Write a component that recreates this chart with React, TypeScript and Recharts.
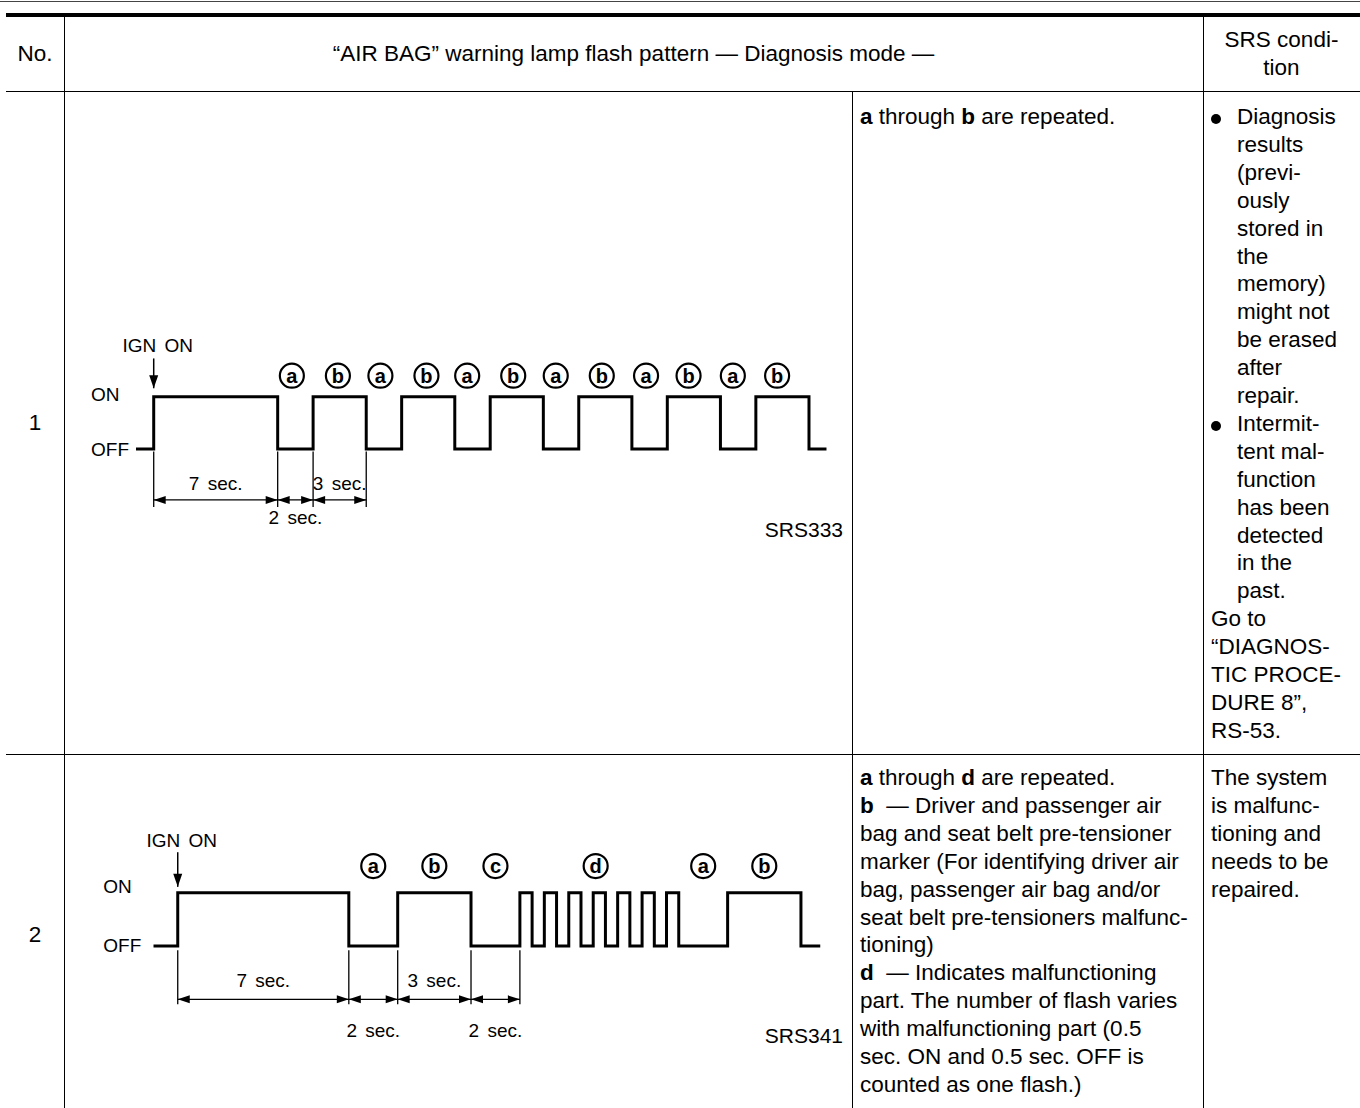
import React from 'react';
import { LineChart, Line, XAxis, YAxis, ReferenceLine, ReferenceDot } from 'recharts';

const FONT = "'Liberation Sans', Arial, Helvetica, sans-serif";

// ---------- Row 1 : a / b repeated ----------
const R1_TIME = [-1, 0, 7, 9, 12, 14, 17, 19, 22, 24, 27, 29, 32, 34, 37, 38];
const R1_LAMP = [0, 1, 0, 1, 0, 1, 0, 1, 0, 1, 0, 1, 0, 1, 0, 0];
const R1_MARK_LABEL = ['a', 'b', 'a', 'b', 'a', 'b', 'a', 'b', 'a', 'b', 'a', 'b'];
const R1_MARK_TIME = [7.8, 10.4, 12.8, 15.4, 17.7, 20.3, 22.7, 25.3, 27.8, 30.2, 32.7, 35.2];
const R1_SPAN_FROM = [0, 7, 9];
const R1_SPAN_TO = [7, 9, 12];
const R1_SPAN_LABEL = ['7 sec.', '2 sec.', '3 sec.'];
const R1_SPAN_SIDE = ['above', 'below', 'above'];
const R1_CODE = 'SRS333';

// ---------- Row 2 : a / b / c / d repeated ----------
const R2_TIME = [-1, 0, 7, 9, 12, 14, 14.5, 15, 15.5, 16, 16.5, 17, 17.5, 18, 18.5, 19, 19.5, 20, 20.5, 22.5, 25.5, 26.3];
const R2_LAMP = [0, 1, 0, 1, 0, 1, 0, 1, 0, 1, 0, 1, 0, 1, 0, 1, 0, 1, 0, 1, 0, 0];
const R2_MARK_LABEL = ['a', 'b', 'c', 'd', 'a', 'b'];
const R2_MARK_TIME = [8, 10.5, 13, 17.1, 21.5, 24];
const R2_SPAN_FROM = [0, 7, 9, 12];
const R2_SPAN_TO = [7, 9, 12, 14];
const R2_SPAN_LABEL = ['7 sec.', '2 sec.', '3 sec.', '2 sec.'];
const R2_SPAN_SIDE = ['above', 'below', 'above', 'below'];
const R2_CODE = 'SRS341';

const LEVEL_LABELS = ['OFF', 'ON'];
const IGN_LABEL = 'IGN ON';

// ---------- table texts ----------
const HEAD_NO = 'No.';
const HEAD_PATTERN = '\u201CAIR BAG\u201D warning lamp flash pattern \u2014 Diagnosis mode \u2014';
const HEAD_COND = ['SRS condi-', 'tion'];
const ROW_NUMBERS = ['1', '2'];
const R1_COND_B1 = ['Diagnosis', 'results', '(previ-', 'ously', 'stored in', 'the', 'memory)', 'might not', 'be erased', 'after', 'repair.'];
const R1_COND_B2 = ['Intermit-', 'tent mal-', 'function', 'has been', 'detected', 'in the', 'past.'];
const R1_COND_TAIL = ['Go to', '\u201CDIAGNOS-', 'TIC PROCE-', 'DURE 8\u201D,', 'RS-53.'];
const R2_COND = ['The system', 'is malfunc-', 'tioning and', 'needs to be', 'repaired.'];

type Seg = { b?: boolean; t: string };
const R1_DESC: Seg[][] = [[{ b: true, t: 'a' }, { t: ' through ' }, { b: true, t: 'b' }, { t: ' are repeated.' }]];
const R2_DESC: Seg[][] = [
  [{ b: true, t: 'a' }, { t: ' through ' }, { b: true, t: 'd' }, { t: ' are repeated.' }],
  [{ b: true, t: 'b' }, { t: '\u00A0 \u2014 Driver and passenger air' }],
  [{ t: 'bag and seat belt pre-tensioner' }],
  [{ t: 'marker (For identifying driver air' }],
  [{ t: 'bag, passenger air bag and/or' }],
  [{ t: 'seat belt pre-tensioners malfunc-' }],
  [{ t: 'tioning)' }],
  [{ b: true, t: 'd' }, { t: '\u00A0 \u2014 Indicates malfunctioning' }],
  [{ t: 'part. The number of flash varies' }],
  [{ t: 'with malfunctioning part (0.5' }],
  [{ t: 'sec. ON and 0.5 sec. OFF is' }],
  [{ t: 'counted as one flash.)' }],
];

const BODY_FS = 22.5;
const LH = 27.9;
const DIAG_FS = 19;

type WaveProps = {
  time: number[];
  lamp: number[];
  markLabel: string[];
  markTime: number[];
  spanFrom: number[];
  spanTo: number[];
  spanLabel: string[];
  spanSide: string[];
  code: string;
  left: number;
  top: number;
  width: number;
  height: number;
  margin: { top: number; right: number; bottom: number; left: number };
  lv: {
    mark: number; ign: number; arrowTop: number; arrowTip: number;
    extTop: number; extBottom: number; dim: number; above: number; below: number; code: number;
  };
  levelDx: number;
  codeDx: number;
  onDy: number;
  offDy: number;
};

const arrowRight = (p: any) => (
  <polygon points={`${p.cx},${p.cy} ${p.cx - 12},${p.cy - 4} ${p.cx - 12},${p.cy + 4}`} fill="#000" />
);
const arrowLeft = (p: any) => (
  <polygon points={`${p.cx},${p.cy} ${p.cx + 12},${p.cy - 4} ${p.cx + 12},${p.cy + 4}`} fill="#000" />
);
const arrowDown = (p: any) => (
  <polygon points={`${p.cx},${p.cy} ${p.cx - 4.5},${p.cy - 13} ${p.cx + 4.5},${p.cy - 13}`} fill="#000" />
);
const textShape = (label: string, anchor: string, dx = 0, dy = 0, fs = DIAG_FS) => (p: any) => (
  <text
    x={p.cx + dx}
    y={p.cy + dy}
    textAnchor={anchor as any}
    fontSize={fs}
    fontFamily={FONT}
    fill="#000"
    style={{ wordSpacing: 3 }}
  >
    {label}
  </text>
);
const circled = (label: string) => (p: any) => (
  <g>
    <circle cx={p.cx} cy={p.cy} r={12} fill="#fff" stroke="#000" strokeWidth={2.2} />
    <text x={p.cx} y={p.cy + 7} textAnchor="middle" fontSize={20} fontWeight="bold" fontFamily={FONT} fill="#000">
      {label}
    </text>
  </g>
);

function WaveChart(props: WaveProps) {
  const { time, lamp, lv } = props;
  const data = time.map((t, i) => ({ t, v: lamp[i] }));
  const xMin = time[0];
  const xMax = time[time.length - 1];
  const extTimes = Array.from(new Set([...props.spanFrom, ...props.spanTo]));
  return (
    <div style={{ position: 'absolute', left: props.left, top: props.top }}>
      <LineChart width={props.width} height={props.height} data={data} margin={props.margin}>
        <XAxis type="number" dataKey="t" domain={[xMin, xMax]} hide allowDataOverflow />
        <YAxis type="number" domain={[-3, 3]} hide allowDataOverflow />
        {extTimes.map((t) => (
          <ReferenceLine
            key={`ext${t}`}
            segment={[{ x: t, y: lv.extTop }, { x: t, y: lv.extBottom }]}
            stroke="#000"
            strokeWidth={1.3}
          />
        ))}
        {props.spanFrom.map((f, i) => (
          <ReferenceLine
            key={`dim${i}`}
            segment={[{ x: f, y: lv.dim }, { x: props.spanTo[i], y: lv.dim }]}
            stroke="#000"
            strokeWidth={1.3}
          />
        ))}
        {props.spanFrom.map((f, i) => (
          <ReferenceDot key={`al${i}`} x={f} y={lv.dim} shape={arrowLeft} />
        ))}
        {props.spanTo.map((t, i) => (
          <ReferenceDot key={`ar${i}`} x={t} y={lv.dim} shape={arrowRight} />
        ))}
        {props.spanLabel.map((l, i) => (
          <ReferenceDot
            key={`sl${i}`}
            x={(props.spanFrom[i] + props.spanTo[i]) / 2}
            y={props.spanSide[i] === 'above' ? lv.above : lv.below}
            shape={textShape(l, 'middle')}
          />
        ))}
        <Line
          dataKey="v"
          type="stepAfter"
          stroke="#000"
          strokeWidth={3}
          dot={false}
          activeDot={false}
          isAnimationActive={false}
          strokeLinejoin="miter"
        />
        {props.markTime.map((t, i) => (
          <ReferenceDot key={`m${i}`} x={t} y={lv.mark} shape={circled(props.markLabel[i])} />
        ))}
        <ReferenceLine segment={[{ x: 0, y: lv.arrowTop }, { x: 0, y: lv.arrowTip }]} stroke="#000" strokeWidth={1.5} />
        <ReferenceDot x={0} y={lv.arrowTip} shape={arrowDown} />
        <ReferenceDot x={0} y={lv.ign} shape={textShape(IGN_LABEL, 'middle', 4)} />
        <ReferenceDot x={xMin} y={1} shape={textShape(LEVEL_LABELS[1], 'start', -props.levelDx, props.onDy)} />
        <ReferenceDot x={xMin} y={0} shape={textShape(LEVEL_LABELS[0], 'start', -props.levelDx, props.offDy)} />
        <ReferenceDot x={xMax} y={lv.code} shape={textShape(props.code, 'end', props.codeDx, 0, 21)} />
      </LineChart>
    </div>
  );
}

const hLine = (top: number, left: number, width: number, h: number, color = '#000') => (
  <div style={{ position: 'absolute', top, left, width, height: h, background: color }} />
);
const vLine = (left: number, top: number, height: number, w = 1.5) => (
  <div style={{ position: 'absolute', top, left, width: w, height, background: '#000' }} />
);

const textBase: React.CSSProperties = {
  position: 'absolute',
  fontFamily: FONT,
  fontSize: BODY_FS,
  lineHeight: `${LH}px`,
  color: '#000',
  whiteSpace: 'pre',
};

function Lines({ rows, left, top }: { rows: Seg[][]; left: number; top: number }) {
  return (
    <div style={{ ...textBase, left, top }}>
      {rows.map((r, i) => (
        <div key={i}>
          {r.map((s, j) => (
            <span key={j} style={{ fontWeight: s.b ? 'bold' : 'normal' }}>
              {s.t}
            </span>
          ))}
        </div>
      ))}
    </div>
  );
}

function Bulleted({ items, left, top }: { items: string[]; left: number; top: number }) {
  return (
    <div style={{ ...textBase, left, top }}>
      {items.map((t, i) => (
        <div key={i} style={{ position: 'relative', paddingLeft: 26 }}>
          {i === 0 && (
            <div
              style={{
                position: 'absolute',
                left: 0,
                top: 11,
                width: 10,
                height: 10,
                borderRadius: 5,
                background: '#000',
              }}
            />
          )}
          {t}
        </div>
      ))}
    </div>
  );
}

export default function App() {
  const W = 1360;
  const H = 1108;
  const colNo = 64;
  const colDesc = 852;
  const colCond = 1203;
  const headBottom = 91;
  const rowSep = 754;
  return (
    <div style={{ position: 'absolute', left: 0, top: 0, width: W, height: H, background: '#fff', overflow: 'hidden' }}>
      {hLine(0.5, 0, W, 1.2, '#444')}
      {hLine(12.8, 6, W - 6, 4)}
      {hLine(headBottom - 0.5, 6, W - 6, 1.6)}
      {hLine(rowSep - 0.5, 6, W - 6, 1.6)}
      {vLine(colNo - 0.5, 16, H - 16)}
      {vLine(colCond - 0.5, 16, H - 16)}
      {vLine(colDesc - 0.5, headBottom, H - headBottom)}

      <div style={{ ...textBase, left: 6, width: colNo - 6, top: 53.5 - LH / 2, textAlign: 'center' }}>{HEAD_NO}</div>
      <div style={{ ...textBase, left: colNo, width: colCond - colNo, top: 53.5 - LH / 2, textAlign: 'center' }}>
        {HEAD_PATTERN}
      </div>
      <div style={{ ...textBase, left: colCond, width: W - colCond, top: 53.5 - LH, textAlign: 'center' }}>
        {HEAD_COND.map((l, i) => (
          <div key={i}>{l}</div>
        ))}
      </div>

      <div style={{ ...textBase, left: 6, width: colNo - 6, top: 423 - LH / 2, textAlign: 'center' }}>{ROW_NUMBERS[0]}</div>
      <div style={{ ...textBase, left: 6, width: colNo - 6, top: 935 - LH / 2, textAlign: 'center' }}>{ROW_NUMBERS[1]}</div>

      <WaveChart
        time={R1_TIME}
        lamp={R1_LAMP}
        markLabel={R1_MARK_LABEL}
        markTime={R1_MARK_TIME}
        spanFrom={R1_SPAN_FROM}
        spanTo={R1_SPAN_TO}
        spanLabel={R1_SPAN_LABEL}
        spanSide={R1_SPAN_SIDE}
        code={R1_CODE}
        left={colNo}
        top={headBottom}
        width={colDesc - colNo}
        height={rowSep - headBottom}
        margin={{ top: 201, right: 25.3, bottom: 148.1, left: 72 }}
        lv={{ mark: 1.4, ign: 1.85, arrowTop: 1.73, arrowTip: 1.16, extTop: -0.05, extBottom: -1.11, dim: -0.975, above: -0.78, below: -1.43, code: -1.69 }}
        levelDx={45}
        codeDx={16.3}
        onDy={4}
        offDy={7.5}
      />

      <WaveChart
        time={R2_TIME}
        lamp={R2_LAMP}
        markLabel={R2_MARK_LABEL}
        markTime={R2_MARK_TIME}
        spanFrom={R2_SPAN_FROM}
        spanTo={R2_SPAN_TO}
        spanLabel={R2_SPAN_LABEL}
        spanSide={R2_SPAN_SIDE}
        code={R2_CODE}
        left={colNo}
        top={rowSep + 1}
        width={colDesc - colNo}
        height={H - rowSep - 1}
        margin={{ top: 31.1, right: 31.5, bottom: 2, left: 89.3 }}
        lv={{ mark: 1.5, ign: 1.86, arrowTop: 1.76, arrowTip: 1.11, extTop: -0.08, extBottom: -1.09, dim: -1.0, above: -0.76, below: -1.7, code: -1.81 }}
        levelDx={50}
        codeDx={22.5}
        onDy={0}
        offDy={6}
      />

      <Lines rows={R1_DESC} left={860} top={117 - LH / 2} />
      <Bulleted items={R1_COND_B1} left={1211} top={117 - LH / 2} />
      <Bulleted items={R1_COND_B2} left={1211} top={117 - LH / 2 + LH * R1_COND_B1.length} />
      <div style={{ ...textBase, left: 1211, top: 117 - LH / 2 + LH * (R1_COND_B1.length + R1_COND_B2.length) }}>
        {R1_COND_TAIL.map((l, i) => (
          <div key={i}>{l}</div>
        ))}
      </div>

      <Lines rows={R2_DESC} left={860} top={778 - LH / 2} />
      <div style={{ ...textBase, left: 1211, top: 778 - LH / 2 }}>
        {R2_COND.map((l, i) => (
          <div key={i}>{l}</div>
        ))}
      </div>
    </div>
  );
}
